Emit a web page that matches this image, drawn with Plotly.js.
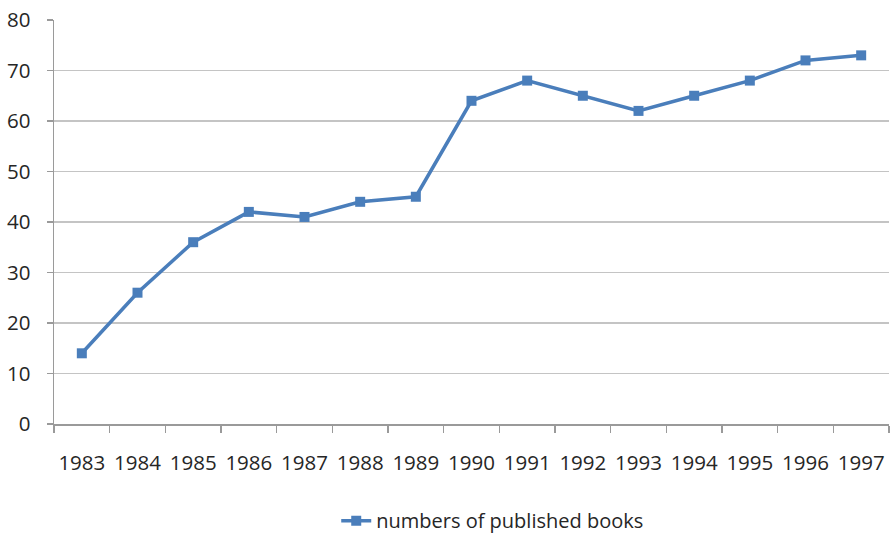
<!DOCTYPE html>
<html>
<head>
<meta charset="utf-8">
<script src="https://cdn.plot.ly/plotly-3.0.1.min.js"></script>
<style>
  html, body { margin: 0; padding: 0; background: #ffffff; }
  #chart { width: 890px; height: 534px; }
</style>
</head>
<body>
<div id="chart"></div>
<script>
// Published books per year, 1983-1997
const years = ['1983', '1984', '1985', '1986', '1987', '1988', '1989', '1990',
               '1991', '1992', '1993', '1994', '1995', '1996', '1997'];
const books = [14, 26, 36, 42, 41, 44, 45, 64, 68, 65, 62, 65, 68, 72, 73];
const seriesName = 'numbers of published books';
const yTicks = [0, 10, 20, 30, 40, 50, 60, 70, 80];

const blue = '#4a7ebb';
const textFont = { family: 'Open Sans, sans-serif', size: 20.5, color: '#262626' };

const trace = {
  type: 'scatter',
  mode: 'lines+markers',
  x: years,
  y: books,
  name: seriesName,
  line: { color: blue, width: 3.5 },
  marker: { symbol: 'square', size: 10, color: blue, line: { width: 0 } },
  showlegend: true
};

const layout = {
  width: 890,
  height: 534,
  margin: { l: 54, r: 1, t: 20, b: 110 },
  paper_bgcolor: '#ffffff',
  plot_bgcolor: '#ffffff',
  font: textFont,
  showlegend: true,
  xaxis: {
    type: 'category',
    range: [-0.5, years.length - 0.5],
    tickson: 'boundaries',
    ticks: 'outside',
    ticklen: 7,
    tickwidth: 1.5,
    tickcolor: '#9a9a9a',
    showline: true,
    linecolor: '#9a9a9a',
    linewidth: 1.5,
    showgrid: false,
    zeroline: false,
    tickangle: 0,
    automargin: false,
    ticklabelstandoff: 20,
    tickfont: textFont,
    fixedrange: true
  },
  yaxis: {
    range: [0, 80],
    tickvals: yTicks,
    ticks: 'outside',
    ticklen: 6,
    tickwidth: 1.5,
    tickcolor: '#9a9a9a',
    showline: true,
    linecolor: '#9a9a9a',
    linewidth: 1.5,
    showgrid: true,
    gridcolor: '#c4c4c4',
    gridwidth: 1.8,
    zeroline: false,
    automargin: false,
    ticklabelstandoff: 12,
    tickfont: textFont,
    fixedrange: true
  },
  legend: {
    orientation: 'h',
    x: 0.338,
    xanchor: 'left',
    yref: 'container',
    y: 0.025,
    yanchor: 'middle',
    font: { family: 'Open Sans, sans-serif', size: 20, color: '#262626' },
    bgcolor: 'rgba(0,0,0,0)',
    itemwidth: 30
  }
};

Plotly.newPlot('chart', [trace], layout, { displayModeBar: false, staticPlot: true });
</script>
</body>
</html>
